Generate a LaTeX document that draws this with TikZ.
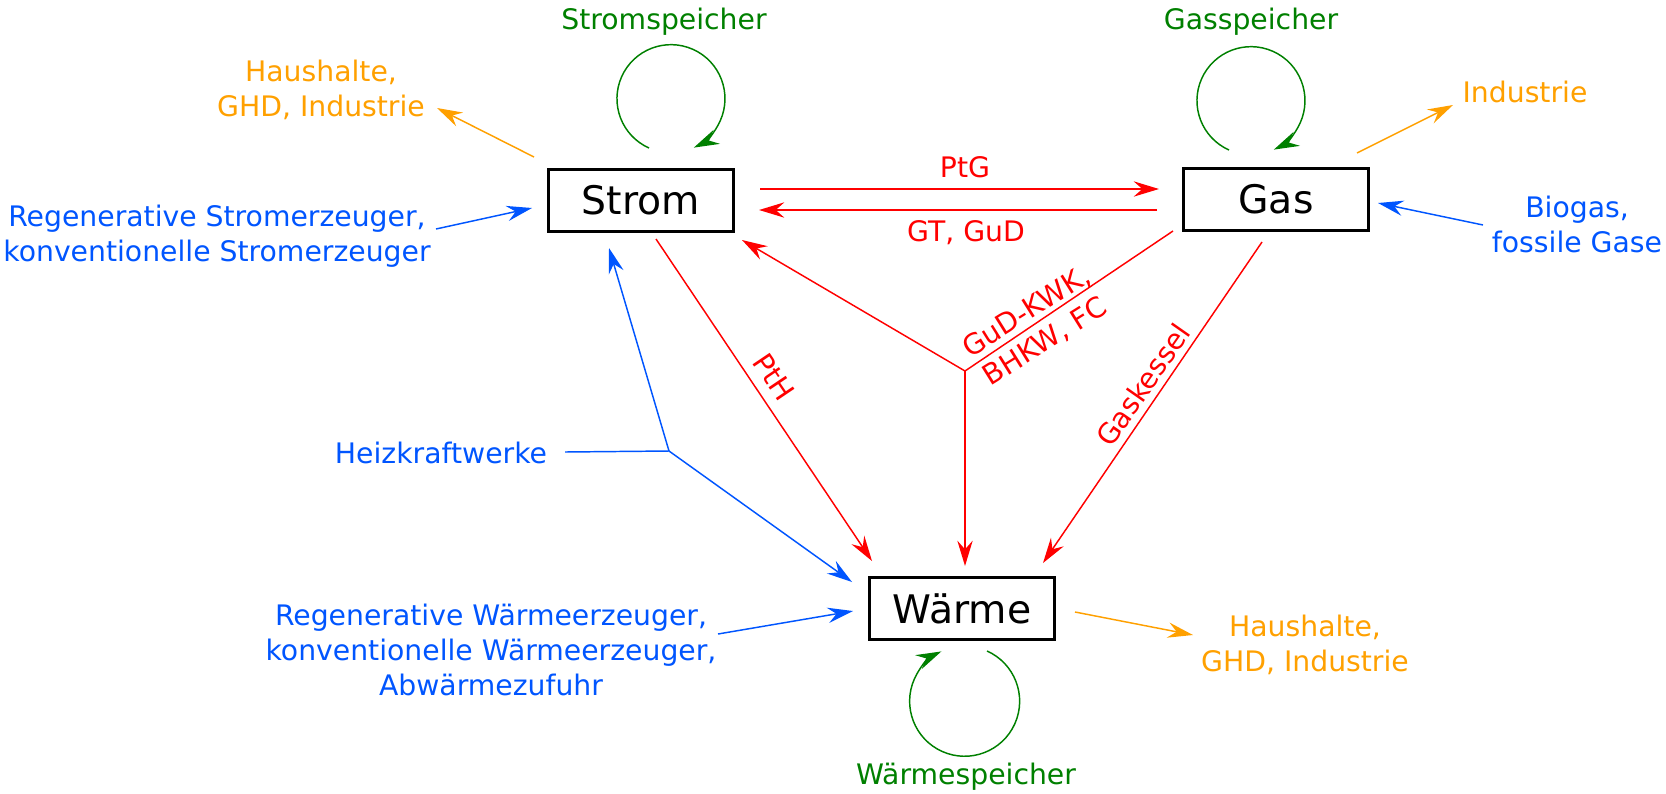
\documentclass[tikz,border=0pt]{standalone}
\usepackage{fontspec}
\setmainfont{DejaVu Sans}
\usetikzlibrary{arrows.meta,calc}
\definecolor{cred}{RGB}{255,0,0}
\definecolor{corange}{RGB}{255,160,0}
\definecolor{cblue}{RGB}{0,85,255}
\definecolor{cgreen}{RGB}{0,128,0}
\begin{document}
\begin{tikzpicture}[x=0.75pt,y=-0.75pt,
  lbl/.style={font=\fontsize{21.2}{26.25}\selectfont, align=center, inner sep=0pt},
  box/.style={draw=black, line width=2.25pt, minimum width=138.75pt, minimum height=46.5pt,
              font=\fontsize{29.5}{35}\selectfont, inner sep=0pt},
  con/.style={line width=1.1pt, -{Stealth[length=19pt,width=11.5pt,inset=6.5pt]}},
  plain/.style={line width=1.1pt},
  ]
\useasboundingbox (0,0) rectangle (1666,793);

% boxes
\node[box] (strom) at (641,200) {Strom};
\node[box] (gas) at (1276,199.5) {Gas};
\node[box] (waerme) at (962,608.5) {Wärme};

% labels
\node[lbl, text=cgreen] (sspl) at (664,22) {Stromspeicher};
\node[lbl, text=cgreen] (gspl) at (1251,22) {Gasspeicher};
\node[lbl, text=cgreen] (wspl) at (966,777) {Wärmespeicher};
\node[lbl, text=corange] (hh1) at (321,90) {Haushalte,\\GHD, Industrie};
\node[lbl, text=corange] (ind) at (1525,92) {Industrie};
\node[lbl, text=corange] (hh2) at (1305,644.5) {Haushalte,\\GHD, Industrie};
\node[lbl, text=cblue] (regs) at (217,236.5) {Regenerative Stromerzeuger,\\konventionelle Stromerzeuger};
\node[lbl, text=cblue] (bio) at (1577,224.5) {Biogas,\\fossile Gase};
\node[lbl, text=cblue] (heiz) at (441,453) {Heizkraftwerke};
\node[lbl, text=cblue] (regw) at (491,650) {Regenerative Wärmeerzeuger,\\konventionelle Wärmeerzeuger,\\Abwärmezufuhr};
\node[lbl, text=cred] (ptg) at (965,167) {PtG};
\node[lbl, text=cred] (gt) at (966,233) {GT, GuD};
\node[lbl, text=cred, rotate=-56] (pth) at (774,377) {PtH};
\node[lbl, text=cred, rotate=32] (gud) at (1036,327) {GuD-KWK,\\BHKW, FC};
\node[lbl, text=cred, rotate=55] (gk) at (1143,385) {Gaskessel};

% connector end points
\coordinate (o1s) at (534,157); \coordinate (o1e) at (437,108);
\coordinate (o2s) at (1357,153); \coordinate (o2e) at (1453,105);
\coordinate (o3s) at (1075,612); \coordinate (o3e) at (1193,635);
\coordinate (b1s) at (436,229); \coordinate (b1e) at (532,208);
\coordinate (b2s) at (1483,225); \coordinate (b2e) at (1378,203);
\coordinate (b3s) at (718,634); \coordinate (b3e) at (853,611);
\coordinate (hs) at (565,452); \coordinate (hj) at (669,451);
\coordinate (hse) at (609,248); \coordinate (hwe) at (852,582);
\coordinate (ptgs) at (760,189); \coordinate (ptge) at (1159,189);
\coordinate (gts) at (1157,210); \coordinate (gte) at (759,210);
\coordinate (pths) at (656,239); \coordinate (pthe) at (872,561);
\coordinate (gks) at (1262,242); \coordinate (gke) at (1043,563);
\coordinate (guds) at (1173,231); \coordinate (rj) at (965,371);
\coordinate (gudse) at (742,240); \coordinate (gudwe) at (965,566);
\coordinate (l1s) at (649,148);
\coordinate (l2s) at (1229,150);
\coordinate (l3s) at (987,651);

% orange
\draw[con, corange] (o1s) -- (o1e);
\draw[con, corange] (o2s) -- (o2e);
\draw[con, corange] (o3s) -- (o3e);
% blue
\draw[con, cblue] (b1s) -- (b1e);
\draw[con, cblue] (b2s) -- (b2e);
\draw[con, cblue] (b3s) -- (b3e);
\draw[plain, cblue] (hs) -- (hj);
\draw[con, cblue] (hj) -- (hse);
\draw[con, cblue] (hj) -- (hwe);
% red
\draw[con, cred] (ptgs) -- (ptge);
\draw[con, cred] (gts) -- (gte);
\draw[con, cred] (pths) -- (pthe);
\draw[con, cred] (gks) -- (gke);
\draw[plain, cred] (guds) -- (rj);
\draw[con, cred] (rj) -- (gudse);
\draw[con, cred] (rj) -- (gudwe);
% green loops
\draw[con, cgreen] (l1s) arc[start angle=114, end angle=425, radius=54];
\draw[con, cgreen] (l2s) arc[start angle=114, end angle=425, radius=54];
\draw[con, cgreen] (l3s) arc[start angle=-66, end angle=245, radius=55];
\end{tikzpicture}
\end{document}
